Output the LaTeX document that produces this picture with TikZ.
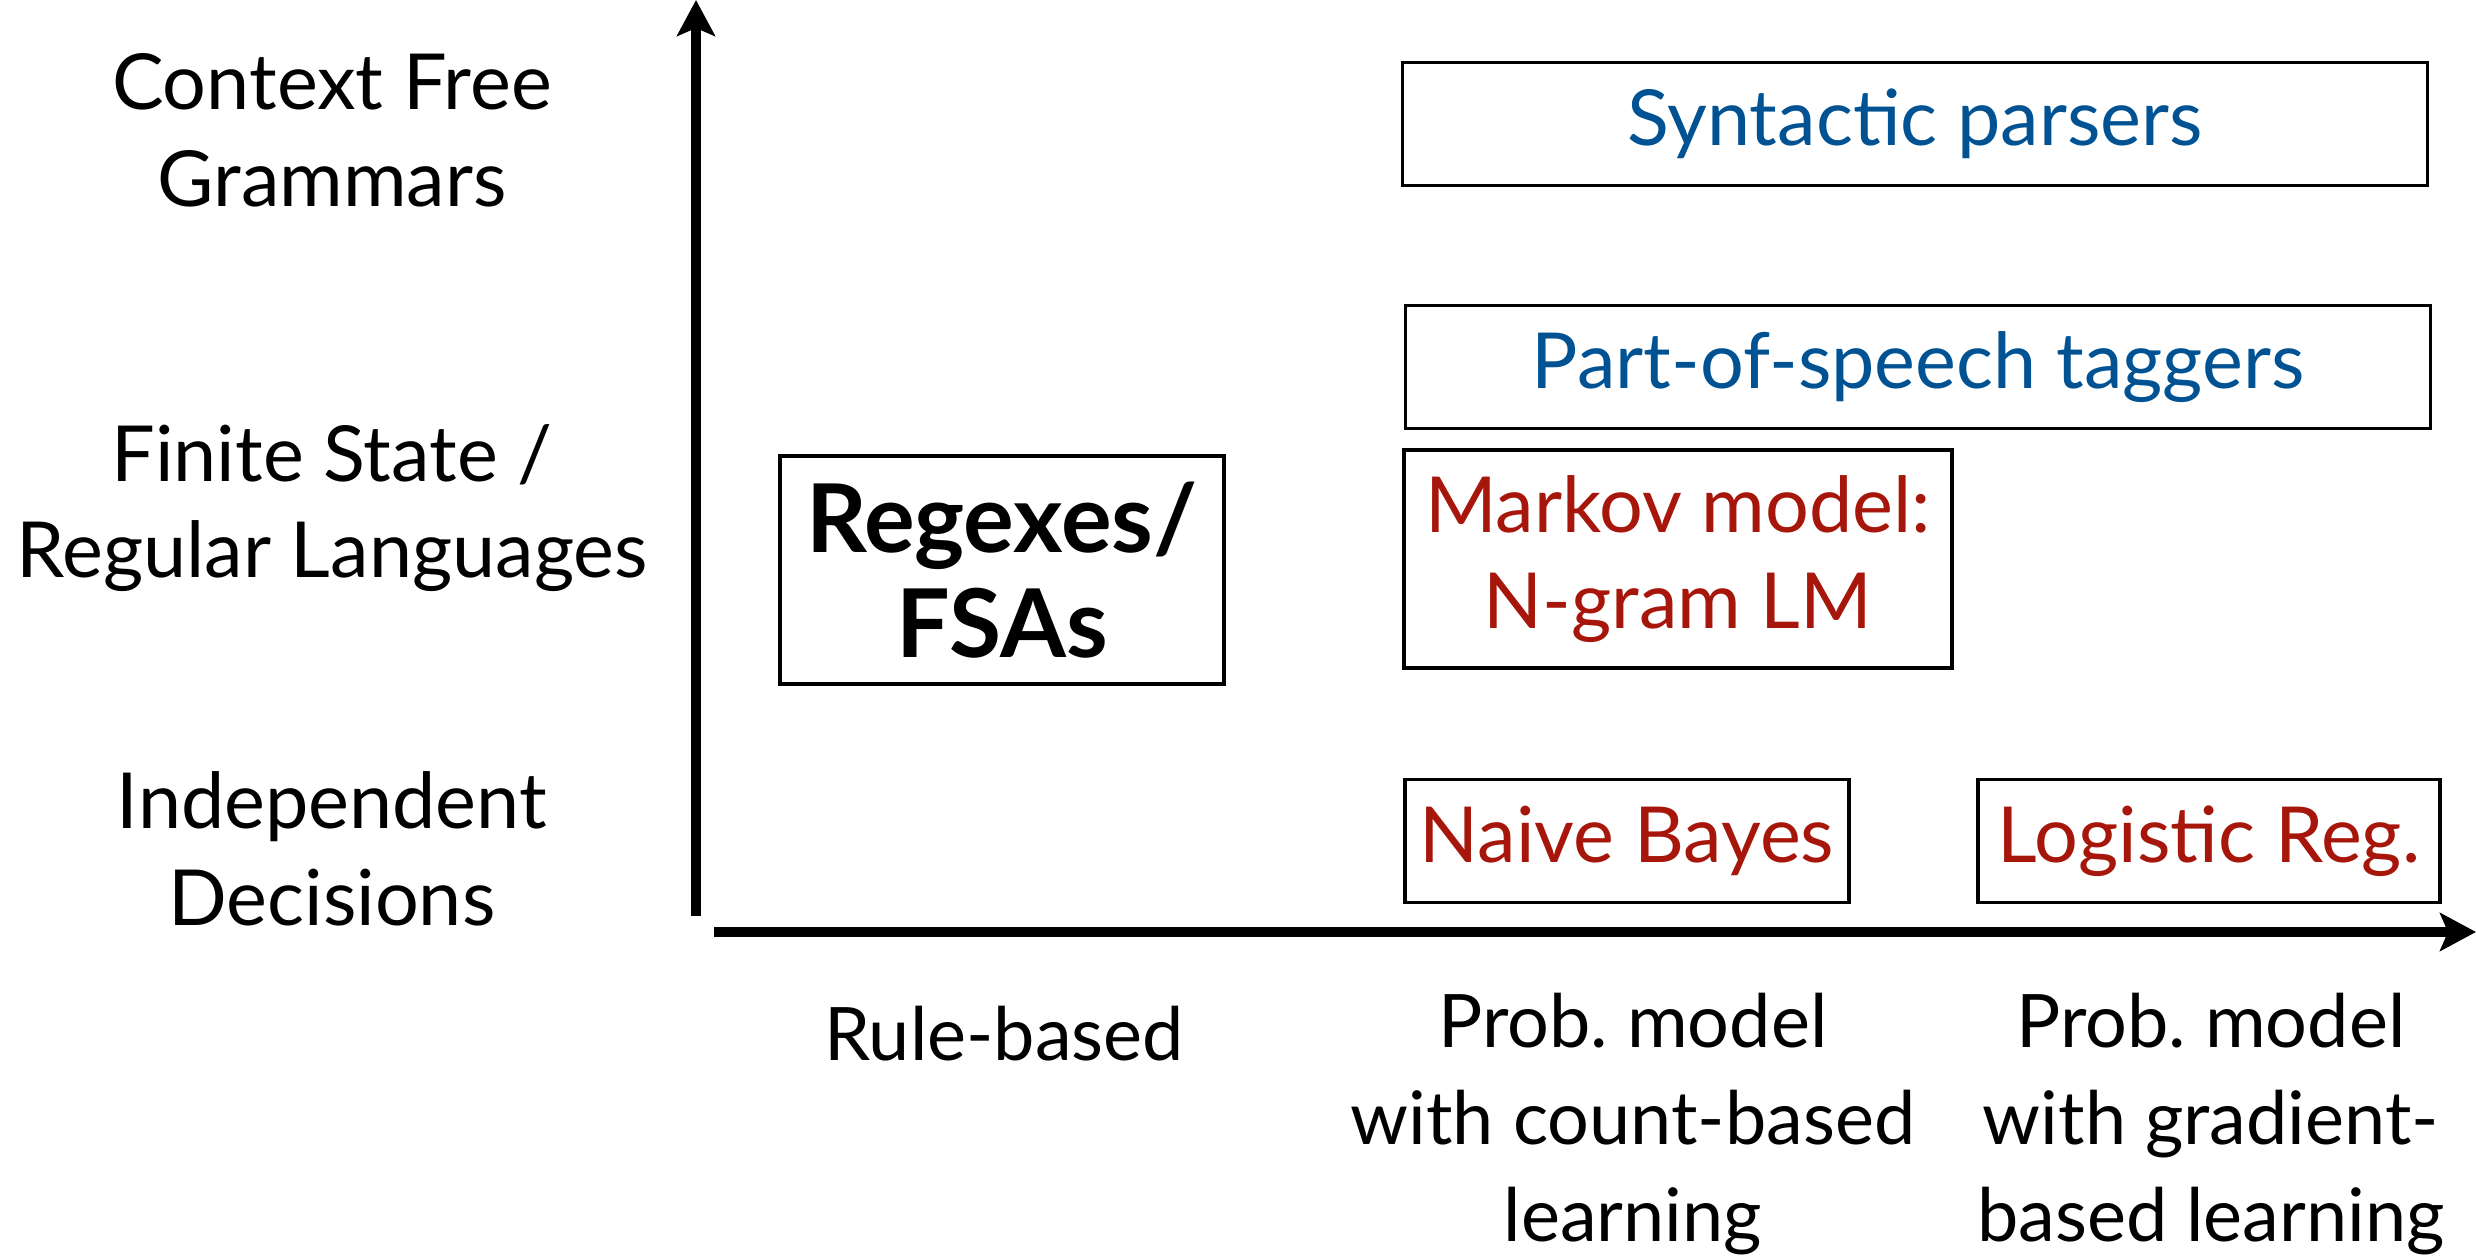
\documentclass[tikz,border=0pt]{standalone}
\usepackage{fontspec}
\setmainfont{Lato}
\usetikzlibrary{arrows.meta, positioning}
\definecolor{catblue}{RGB}{0,82,147}
\definecolor{catred}{RGB}{166,22,10}
\frenchspacing
\tikzset{
  box/.style={draw, line width=1pt, inner sep=0pt, align=center, minimum height=1.23cm},
  axis/.style={-{Stealth[length=3.6mm, width=3.8mm, inset=0.8mm]}, line width=2.6pt},
  lbl/.style={align=center, font=\fontsize{22}{27.5}\selectfont},
}
\begin{document}
\begin{tikzpicture}[every node/.style={font=\fontsize{22}{27.5}\selectfont}]
    \useasboundingbox (0,0) rectangle (24.76,12.55);
    % axes
    \coordinate (ybot) at (6.96,3.39);
    \coordinate (ytop) at (6.96,12.55);
    \coordinate (xleft) at (7.14,3.23);
    \coordinate (xright) at (24.76,3.23);
    \draw[axis] (ybot) -- (ytop);
    \draw[axis] (xleft) -- (xright);
    % row labels
    \node[lbl] (cfg) at (3.32,11.25) {Context Free\\Grammars};
    \node[lbl] (fsl) at (3.32,7.47) {Finite State /\\Regular Languages};
    \node[lbl] (ind) at (3.32,4.06) {Independent\\Decisions};
    % column labels
    \node[lbl, font=\fontsize{21}{27.5}\selectfont] (rule) at (10.04,2.21) {Rule-based};
    \node[lbl, font=\fontsize{21}{27.5}\selectfont] (count) at (16.33,1.31) {Prob. model\\with count-based\\learning};
    \node[lbl, font=\fontsize{21}{27.5}\selectfont] (grad) at (22.11,1.31) {Prob. model\\with gradient-\\based learning};
    % boxes
    \node[box, text=catblue, minimum width=10.25cm] (parse) at (19.15,11.31) {Syntactic parsers};
    \node[box, text=catblue, minimum width=10.25cm] (pos) at (19.18,8.88) {Part-of-speech taggers};
    \node[box, text=catred, minimum width=5.48cm, minimum height=2.18cm] (markov) at (16.78,6.96) {Markov model:\\N-gram LM};
    \node[box, minimum width=4.44cm, minimum height=2.28cm, font=\fontsize{27}{30}\selectfont\bfseries] (regex) at (10.02,6.85) {Regexes/\\FSAs};
    \node[box, text=catred, minimum width=4.44cm] (nb) at (16.27,4.14) {Naive Bayes};
    \node[box, text=catred, minimum width=4.62cm] (lr) at (22.09,4.14) {Logistic Reg.};
\end{tikzpicture}
\end{document}
